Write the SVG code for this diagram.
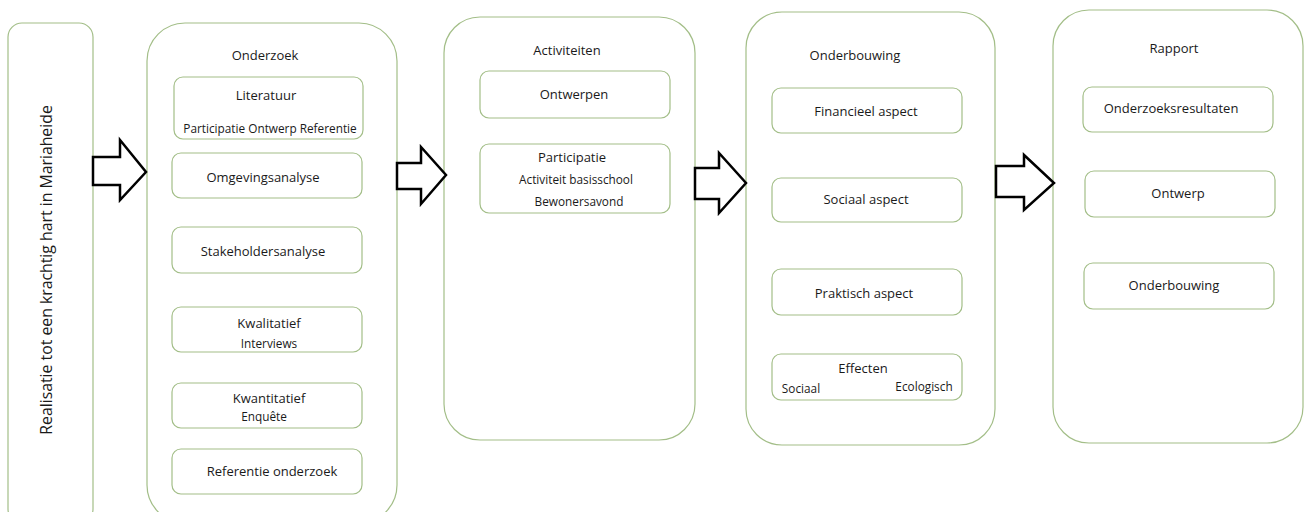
<svg xmlns="http://www.w3.org/2000/svg" width="1309" height="512" viewBox="0 0 1309 512">
<style>
.box{fill:#fff;stroke:#a3be88;stroke-width:1.2}
.t{font-family:"Open Sans",sans-serif;fill:#1a1a1a;text-anchor:middle;dominant-baseline:central}
.h{font-size:13px}
.m{font-size:13px}
.s{font-size:11.8px}
.arr{fill:#fff;stroke:#000;stroke-width:2.5;stroke-linejoin:miter}
</style>
<rect width="1309" height="512" fill="#fff"/>
<g id="realisatie">
<rect class="box" x="8" y="23" width="85" height="500" rx="14"/>
<text class="t" style="font-size:15.8px" transform="translate(46 270) rotate(-90)">Realisatie tot een krachtig hart in Mariaheide</text>
</g>
<g id="onderzoek">
<rect class="box" x="147" y="23" width="250" height="500" rx="38"/>
<text class="t h" x="265" y="55">Onderzoek</text>
<rect class="box" x="174" y="77" width="189" height="62" rx="9"/>
<text class="t m" x="266" y="95">Literatuur</text>
<text class="t s" x="270" y="128">Participatie Ontwerp Referentie</text>
<rect class="box" x="172" y="153" width="190" height="45" rx="9"/>
<text class="t m" x="263" y="177">Omgevingsanalyse</text>
<rect class="box" x="172" y="227" width="190" height="46" rx="9"/>
<text class="t m" x="263" y="251">Stakeholdersanalyse</text>
<rect class="box" x="172" y="307" width="190" height="45" rx="9"/>
<text class="t m" x="269" y="323">Kwalitatief</text>
<text class="t s" x="269" y="343">Interviews</text>
<rect class="box" x="172" y="383" width="190" height="45" rx="9"/>
<text class="t m" x="269" y="398">Kwantitatief</text>
<text class="t s" x="264" y="416">Enquête</text>
<rect class="box" x="172" y="449" width="190" height="45" rx="9"/>
<text class="t m" x="272" y="471">Referentie onderzoek</text>
</g>
<g id="activiteiten">
<rect class="box" x="444" y="17" width="251" height="423" rx="36"/>
<text class="t h" x="567" y="50">Activiteiten</text>
<rect class="box" x="480" y="71" width="190" height="47" rx="9"/>
<text class="t m" x="574" y="94">Ontwerpen</text>
<rect class="box" x="480" y="144" width="190" height="69" rx="9"/>
<text class="t m" x="572" y="157">Participatie</text>
<text class="t s" x="576" y="179">Activiteit basisschool</text>
<text class="t s" x="579" y="201">Bewonersavond</text>
</g>
<g id="onderbouwing">
<rect class="box" x="746" y="12" width="249" height="433" rx="36"/>
<text class="t h" x="855" y="55">Onderbouwing</text>
<rect class="box" x="772" y="88" width="190" height="45" rx="9"/>
<text class="t m" x="866" y="111">Financieel aspect</text>
<rect class="box" x="772" y="178" width="190" height="44" rx="9"/>
<text class="t m" x="866" y="199">Sociaal aspect</text>
<rect class="box" x="772" y="269" width="190" height="46" rx="9"/>
<text class="t m" x="864" y="293">Praktisch aspect</text>
<rect class="box" x="772" y="354" width="190" height="46" rx="9"/>
<text class="t m" x="863" y="368">Effecten</text>
<text class="t s" x="801" y="388">Sociaal</text>
<text class="t s" x="924" y="386">Ecologisch</text>
</g>
<g id="rapport">
<rect class="box" x="1053" y="10" width="250" height="433" rx="36"/>
<text class="t h" x="1174" y="48">Rapport</text>
<rect class="box" x="1083" y="87" width="190" height="45" rx="9"/>
<text class="t m" x="1171" y="108">Onderzoeksresultaten</text>
<rect class="box" x="1085" y="171" width="190" height="46" rx="9"/>
<text class="t m" x="1178" y="193">Ontwerp</text>
<rect class="box" x="1084" y="263" width="190" height="46" rx="9"/>
<text class="t m" x="1174" y="285">Onderbouwing</text>
</g>
<g id="connectors">
<polygon class="arr" points="93,157 120,157 120,140 146,172 120,200 120,185 93,185"/>
<polygon class="arr" points="397,163 421,163 421,147 446,175 421,204 421,189 397,189"/>
<polygon class="arr" points="695,168 719,168 719,153 746,183 719,213 719,199 695,199"/>
<polygon class="arr" points="996,166 1024,166 1024,155 1054,183 1024,210 1024,197 996,197"/>
</g>
</svg>
